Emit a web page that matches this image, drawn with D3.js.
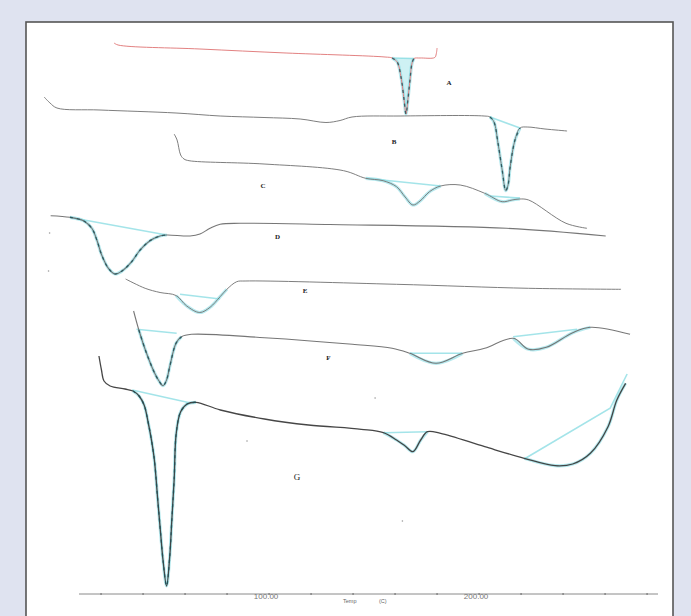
<!DOCTYPE html>
<html>
<head>
<meta charset="utf-8">
<script src="https://cdn.jsdelivr.net/npm/d3@7"></script>
<style>
  html, body { margin: 0; padding: 0; background: #dfe3f0; }
  svg { display: block; }
</style>
</head>
<body>
<svg id="chart" width="691" height="616"></svg>
<script>
// ---- Data: temperature (°C) vs heat flow (arbitrary offset units) ----
const curveA = [[26.2,551],[28.1,549],[67.1,545],[108.1,541],[155.2,537],[158.6,536],[161.0,532],[162.9,516],[164.3,494],[165.2,480],[166.2,496],[167.1,514],[168.1,531],[169.0,535.5],[171.9,536],[178.9,536.5],[179.6,540],[180.0,546]];
const curveB = [[-7.1,497],[-4.3,491],[-1.0,486],[19.5,484],[55.7,481],[76.7,478],[97.6,476.5],[114.8,475],[127.1,471.5],[133.8,473.5],[139.5,477],[162.4,478],[202.4,478],[205.2,477],[207.1,472],[209.0,451],[211.0,424],[212.7,403.3],[213.8,409],[214.8,427],[217.1,454],[219.5,466],[222.9,467],[231.4,465],[241.9,463]];
const curveC = [[54.8,460],[56.2,454],[57.9,439],[59.5,435],[61.9,433.3],[97.6,430],[135.5,423.3],[146.0,415.7],[154.3,413.3],[160.7,407.3],[164.8,397],[168.5,389],[171.9,393],[176.4,402.3],[181.7,408],[191.0,409],[202.7,400.7],[211.0,392.3],[215.7,394],[219.4,395],[223.6,394],[241.4,370.7],[251.4,365.7]];
const curveD = [[-4.0,378.3],[5.2,376.7],[11.6,373.3],[15.6,365.7],[18.0,354],[20.3,339],[23.5,325.7],[26.7,320],[30.6,324],[34.6,332.3],[38.6,344],[43.3,353.3],[48.1,358],[51.3,359],[62.4,358],[67.1,360],[71.9,365.7],[76.7,369.7],[86.2,370.7],[129.0,369.5],[213.1,365.7],[260.3,358]];
const curveE = [[31.7,315],[41.0,305.7],[48.1,301.5],[55.7,298.5],[60.8,288],[67.0,281.5],[71.9,286.7],[76.7,297.3],[79.9,304.7],[84.6,312.3],[88.6,313],[160.7,309.7],[223.6,305.7],[267.6,304.7]];
const curveF = [[35.5,283],[38.0,264],[41.1,244],[45.2,222.3],[47.6,213],[49.5,208.3],[51.2,214],[52.7,227.3],[55.7,250.7],[58.3,257.3],[63.1,259.7],[97.8,256.3],[139.7,249.7],[158.6,245.7],[167.0,240.7],[179.5,230.7],[192.2,240.7],[202.7,245.7],[216.3,255.7],[223.6,244.7],[232.0,246.7],[244.6,261.3],[253.0,266.7],[271.9,259.7]];
const curveG = [[19.0,238],[20.2,224],[21.4,213],[24.3,208],[31.4,205],[35.2,203],[38.1,198],[40.5,189],[42.4,172],[45.2,137.3],[47.0,94],[48.5,57.3],[49.5,34],[51.2,8],[52.7,37.3],[53.7,74],[54.8,114],[55.8,160.7],[57.9,182.3],[61.0,190],[65.2,191.7],[76.8,184],[97.8,175],[118.8,169],[143.9,164.7],[154.4,161.3],[160.7,154],[164.8,148],[168.5,142.3],[172.2,154],[175.4,162.3],[181.7,160.7],[202.7,147.3],[221.5,135.7],[236.2,128.3],[244.6,130],[253.0,140.7],[261.4,167.3],[265.6,194],[269.8,210.7]];

// integration baselines (cyan)
const baseA = [[[158.6,536],[169.0,535.5]]];
const baseB = [[[205.2,477],[219.5,466]]];
const baseC = [[[146.0,415.7],[181.7,408]],[[205.2,398],[219.5,396]]];
const baseD = [[[6.7,376],[51.3,359]]];
const baseE = [[[57.6,299.7],[76.7,295]]];
const baseF = [[[36.9,264.7],[56.0,260.7]],[[167.1,240.7],[191.9,240.7]],[[216.2,257.3],[246.7,264.7]]];
const baseG = [[[34.8,204],[62.1,191.3]],[[155.0,161.3],[175.4,162.3]],[[221.5,135],[262.4,185.7],[270.5,220]]];

// peak ranges (°C) highlighted in cyan
const peaksA = [[158.6,169.0]];
const peaksB = [[205.2,219.5]];
const peaksC = [[146.0,181.7],[202.7,219.4]];
const peaksD = [[5.2,51.3]];
const peaksE = [[55.7,79.9]];
const peaksF = [[36.9,58.3],[167.0,192.2],[216.3,253.0]];
const peaksG = [[35.2,65.2],[154.4,175.4],[221.5,269.8]];

const seriesNames = ["A","B","C","D","E","F","G"];
const labelPos = [[185.7,511],[159.5,452],[97.1,408],[104.0,357],[117.1,303.5],[128.3,236],[113.3,117]];
const specks = [[-4.5,361],[-5.0,323],[150.5,196],[89.5,153],[163.5,73]];

const tickValues = [20,40,60,80,100,120,140,160,180,200,220,240,260,280];
const tickLabelValues = [100,200];
const tickLabels = ["100.00","200.00"];
const axisTitle = ["Temp","(C)"];

// ---- Drawing ----
const svg = d3.select("#chart");
const x = d3.scaleLinear().domain([9.5, 285.2]).range([79, 658]);
const y = d3.scaleLinear().domain([0, 572]).range([594, 22]);

svg.append("rect").attr("x",26).attr("y",22).attr("width",647).attr("height",640)
  .attr("fill","#ffffff").attr("stroke","#555").attr("stroke-width",1.6);

const line = d3.line().x(d => x(d[0])).y(d => y(d[1])).curve(d3.curveCatmullRom.alpha(0.5));
const straight = d3.line().x(d => x(d[0])).y(d => y(d[1]));
const seg = (pts, t0, t1) => pts.filter(p => p[0] >= t0 - 0.05 && p[0] <= t1 + 0.05);

const curves = [curveA,curveB,curveC,curveD,curveE,curveF,curveG];
const peaks = [peaksA,peaksB,peaksC,peaksD,peaksE,peaksF,peaksG];
const bases = [baseA,baseB,baseC,baseD,baseE,baseF,baseG];
const colors = ["#e07a7a","#777","#777","#6f6f6f","#777","#6f6f6f","#3c3c3c"];
const widths = [1.0,1.0,1.0,1.1,1.0,1.1,1.3];
const dashed = [true,true,false,true,false,true,true];

// fill for A peak
const aPeak = seg(curveA, peaksA[0][0], peaksA[0][1]);
svg.append("path")
  .attr("d", d3.area().x(d => x(d[0])).y0(y(536)).y1(d => y(d[1])).curve(d3.curveCatmullRom.alpha(0.5))(aPeak))
  .attr("fill","#c9f0f3").attr("opacity",0.9);

// cyan wide highlights on peaks
curves.forEach((c,i) => {
  peaks[i].forEach(p => {
    svg.append("path").attr("d", line(seg(c,p[0],p[1])))
      .attr("fill","none").attr("stroke","#86dbe2").attr("stroke-width",3.2).attr("opacity",0.6);
  });
  bases[i].forEach(b => {
    svg.append("path").attr("d", straight(b))
      .attr("fill","none").attr("stroke","#86dbe2").attr("stroke-width",1.6).attr("opacity",0.75);
  });
});

// main curves
curves.forEach((c,i) => {
  svg.append("path").attr("d", line(c))
    .attr("fill","none").attr("stroke",colors[i]).attr("stroke-width",widths[i])
    .attr("stroke-linejoin","round").attr("opacity",0.95);
});

// dark dashed overlay on main peak sides
curves.forEach((c,i) => {
  if (!dashed[i]) return;
  const p = peaks[i][0];
  svg.append("path").attr("d", line(seg(c,p[0],p[1])))
    .attr("fill","none").attr("stroke","#1f4f55").attr("stroke-width",1.4)
    .attr("stroke-dasharray","3,4").attr("opacity",0.8);
});

// series labels
seriesNames.forEach((n,i) => {
  svg.append("text").attr("x", x(labelPos[i][0])).attr("y", y(labelPos[i][1]))
    .attr("text-anchor","middle").attr("dominant-baseline","central")
    .attr("font-family","Liberation Serif, serif")
    .attr("font-weight", n === "G" ? "normal" : "bold")
    .attr("font-size", n === "G" ? 9 : 7)
    .attr("fill","#222").text(n);
});

// specks
svg.selectAll("circle.speck").data(specks).enter().append("circle")
  .attr("cx", d => x(d[0])).attr("cy", d => y(d[1])).attr("r",0.8).attr("fill","#999");

// temperature axis
const axisG = svg.append("g");
axisG.append("line").attr("x1", x(9.5)).attr("x2", x(285.2)).attr("y1", y(0)).attr("y2", y(0))
  .attr("stroke","#8a8a8a").attr("stroke-width",1);
axisG.selectAll("line.tk").data(tickValues).enter().append("line")
  .attr("x1", d => x(d)).attr("x2", d => x(d)).attr("y1", y(0)-1).attr("y2", y(0)+1)
  .attr("stroke","#777").attr("stroke-width",1.2);
axisG.selectAll("text.tl").data(tickLabelValues).enter().append("text")
  .attr("x", d => x(d) - 3).attr("y", y(0) + 5)
  .attr("text-anchor","middle").attr("font-family","Liberation Sans, sans-serif")
  .attr("font-size",8).attr("fill","#777").text((d,i) => tickLabels[i]);
axisG.append("text").attr("x", 343).attr("y", y(0)+9).attr("font-family","Liberation Sans, sans-serif")
  .attr("font-size",5.5).attr("fill","#666").text(axisTitle[0]);
axisG.append("text").attr("x", 379).attr("y", y(0)+9).attr("font-family","Liberation Sans, sans-serif")
  .attr("font-size",5.5).attr("fill","#666").text(axisTitle[1]);
</script>
</body>
</html>
